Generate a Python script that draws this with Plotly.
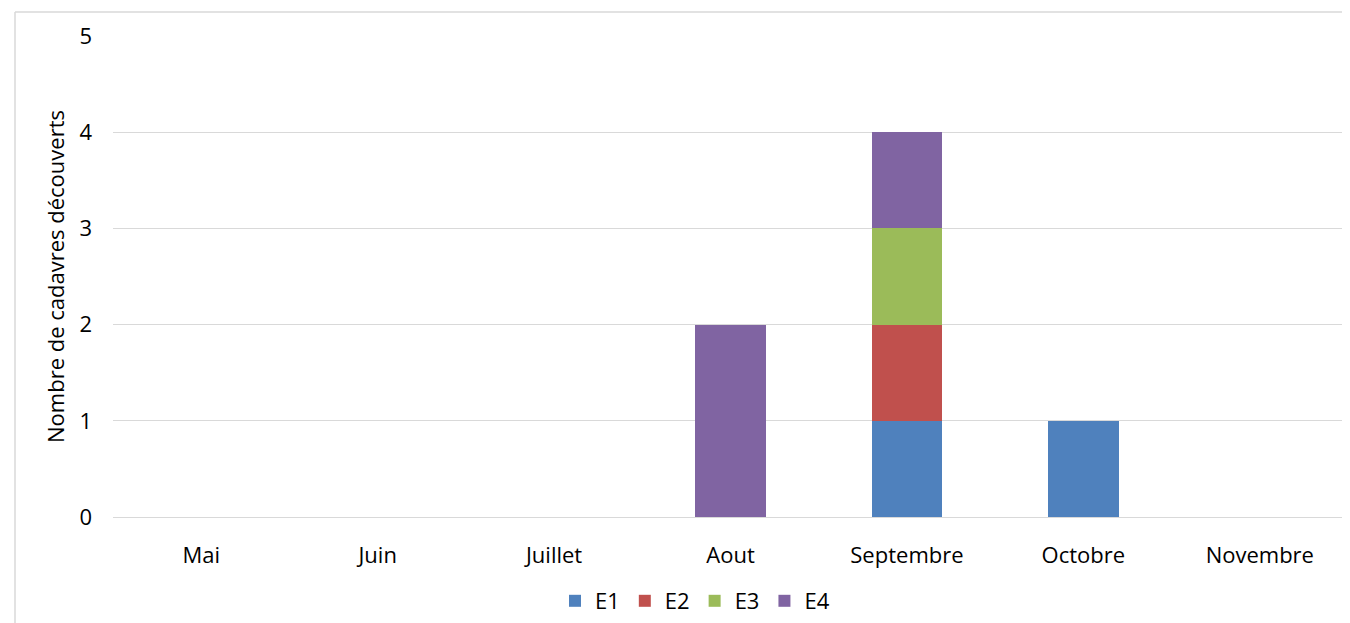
import plotly.graph_objects as go

mois = ["Mai", "Juin", "Juillet", "Aout", "Septembre", "Octobre", "Novembre"]
e1 = [0, 0, 0, 0, 1, 1, 0]
e2 = [0, 0, 0, 0, 1, 0, 0]
e3 = [0, 0, 0, 0, 1, 0, 0]
e4 = [0, 0, 0, 2, 1, 0, 0]

series = [("E1", e1, "#4F81BD"), ("E2", e2, "#C0504D"),
          ("E3", e3, "#9BBB59"), ("E4", e4, "#8064A2")]

fig = go.Figure()
for name, vals, col in series:
    fig.add_trace(go.Bar(x=mois, y=vals, name=name, marker_color=col,
                         marker_line_width=0))

# page body has an 8px margin, so work in shifted coordinates
OFF = 8
W, H = 1350 - OFF, 623 - OFF
L, T = 113 - OFF, 36 - OFF
R = W - (1348 - OFF)
B = H - (518 - OFF)
pw, ph = W - L - R, H - T - B

def px(x):
    return (x - OFF - L) / pw

def py(y):
    return (H - B - (y - OFF)) / ph

fig.update_layout(
    width=W, height=H,
    barmode="stack", bargap=0.6,
    plot_bgcolor="white", paper_bgcolor="white",
    margin=dict(l=L, r=R, t=T, b=B),
    font=dict(family="Open Sans, sans-serif", size=22, color="#000000"),
    showlegend=True,
    legend=dict(orientation="h", x=px(695), xanchor="center", y=py(601),
                yanchor="middle", font=dict(size=22), traceorder="normal",
                itemwidth=30),
    xaxis=dict(showgrid=False, showline=True, linecolor="#D9D9D9",
               ticks="", ticklabelstandoff=19, tickfont=dict(size=22)),
    yaxis=dict(range=[0, 5], dtick=1, showgrid=True, gridcolor="#D9D9D9",
               zeroline=False, showline=False, ticks="",
               ticklabelstandoff=20, tickfont=dict(size=22),
               title=dict(text="Nombre de cadavres découverts",
                          font=dict(size=22), standoff=8)),
    shapes=[
        dict(type="line", xref="paper", yref="paper",
             x0=px(15), x1=px(1352), y0=py(12), y1=py(12),
             line=dict(color="#D9D9D9", width=1.5)),
        dict(type="line", xref="paper", yref="paper",
             x0=px(15), x1=px(15), y0=py(12), y1=py(625),
             line=dict(color="#D9D9D9", width=1.5)),
    ],
)

fig.write_html("out.html")
